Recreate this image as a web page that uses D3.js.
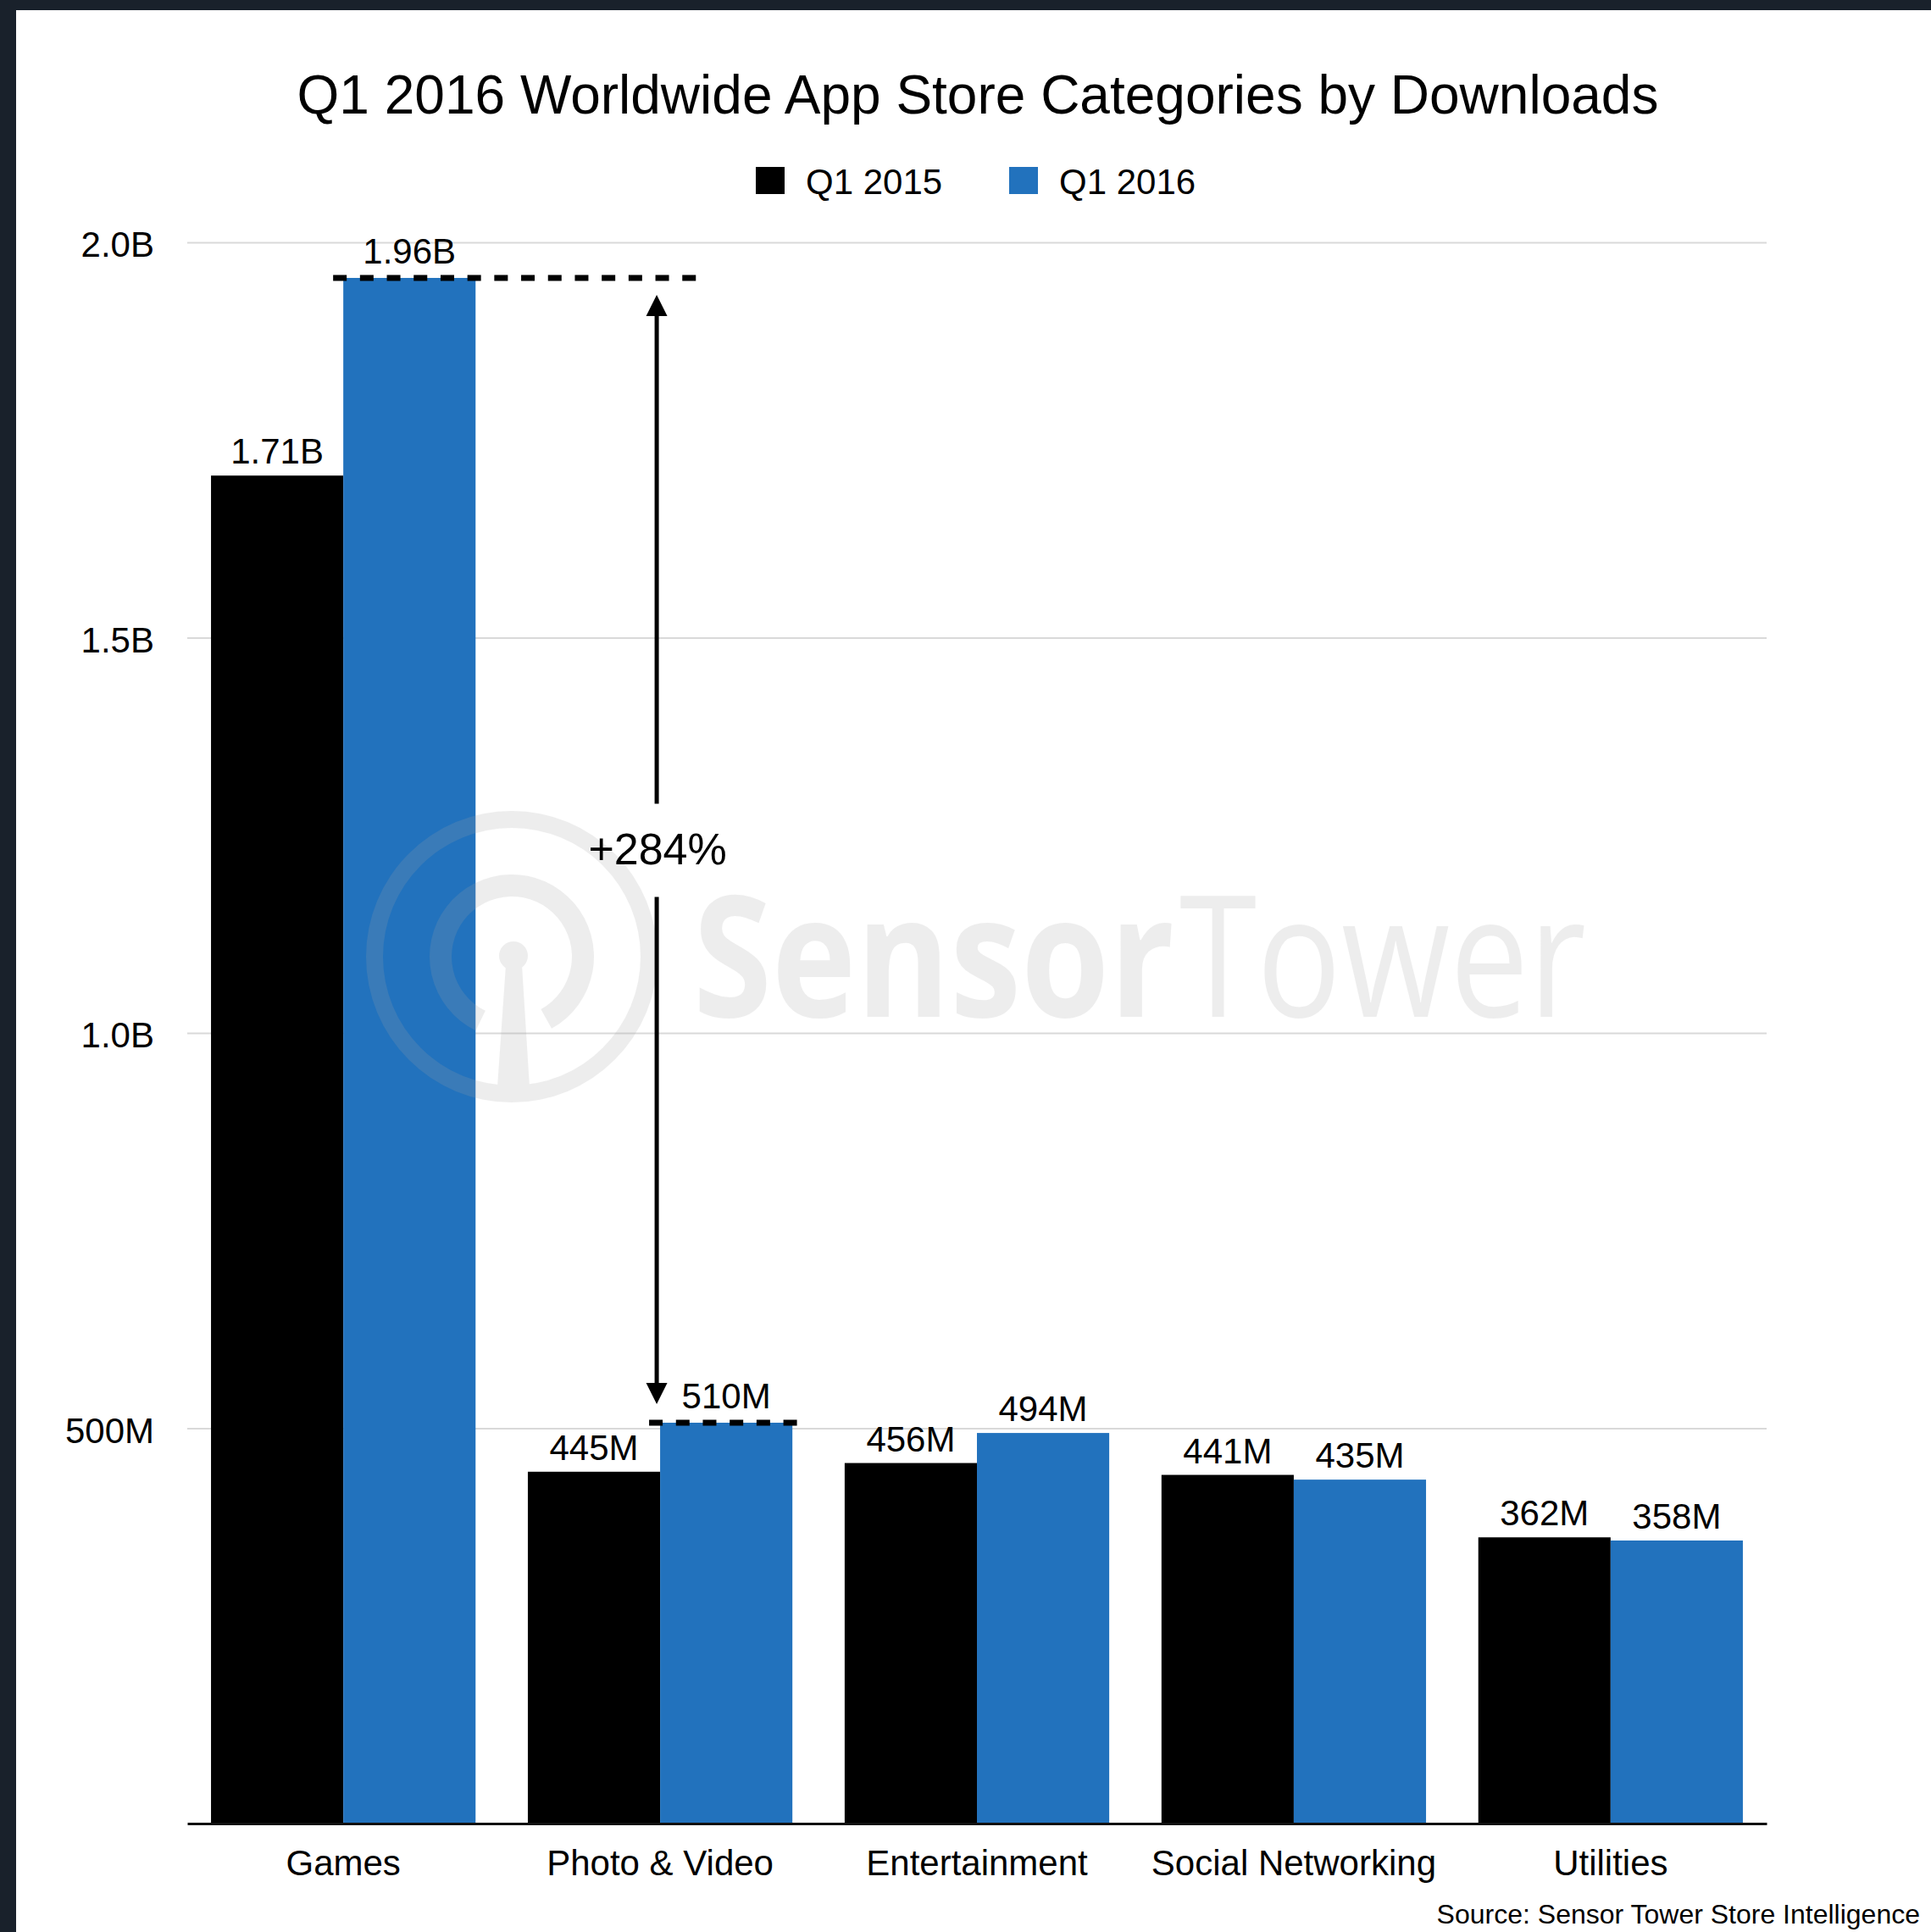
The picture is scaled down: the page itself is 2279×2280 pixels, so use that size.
<!DOCTYPE html>
<html>
<head>
<meta charset="utf-8">
<script src="https://d3js.org/d3.v7.min.js"></script>
<style>
  body { margin: 0; background: #fff; }
  svg { display: block; }
</style>
</head>
<body>
<svg id="chart"></svg>
<script>
// chart data
const categories = ["Games", "Photo & Video", "Entertainment", "Social Networking", "Utilities"];
const seriesNames = ["Q1 2015", "Q1 2016"];
const downloads2015 = [1.705e9, 445e6, 456e6, 441e6, 362e6];
const downloads2016 = [1.955e9, 507e6, 494e6, 435e6, 358e6];
const labels2015 = ["1.71B", "445M", "456M", "441M", "362M"];
const labels2016 = ["1.96B", "510M", "494M", "435M", "358M"];
const yTickValues = [5e8, 1e9, 1.5e9, 2e9];
const yTickLabels = ["500M", "1.0B", "1.5B", "2.0B"];
const seriesColors = ["#000000", "#2272bd"];
const growthLabel = "+284%";

setupVis();


function setupVis() {

    const WIDTH = 2279;
    const HEIGHT = 2280;
    const LEFT = 221;
    const RIGHT = 2085;
    const TOP = 286;
    const BOTTOM = 2152;
    const FONT = "'Liberation Sans', Arial, Helvetica, sans-serif";

    let svg = d3.select("#chart")
        .attr("width", WIDTH)
        .attr("height", HEIGHT);

    svg.append("rect").attr("width", WIDTH).attr("height", HEIGHT).attr("fill", "#fff");
    // dark frame along top and left edge
    svg.append("rect").attr("width", WIDTH).attr("height", 12).attr("fill", "#19212b");
    svg.append("rect").attr("width", 19).attr("height", HEIGHT).attr("fill", "#19212b");

    const x0 = d3.scaleBand()
        .domain(categories)
        .range([LEFT, RIGHT])
        .paddingInner(0.165)
        .paddingOuter(0.075);
    const x1 = d3.scaleBand()
        .domain(seriesNames)
        .range([0, x0.bandwidth()]);
    const y = d3.scaleLinear()
        .domain([0, 2e9])
        .range([BOTTOM, TOP]);

    // title
    svg.append("text")
        .attr("x", 1154)
        .attr("y", 134)
        .attr("text-anchor", "middle")
        .attr("font-family", FONT)
        .attr("font-size", 64)
        .text("Q1 2016 Worldwide App Store Categories by Downloads");

    // legend
    const legend = svg.append("g")
        .selectAll("g")
        .data(seriesNames)
        .join("g")
        .attr("transform", (d, i) => "translate(" + (892 + i * 299) + ",197)");
    legend.append("rect")
        .attr("width", 34)
        .attr("height", 32)
        .attr("fill", (d, i) => seriesColors[i]);
    legend.append("text")
        .attr("x", 59)
        .attr("y", 32)
        .attr("font-family", FONT)
        .attr("font-size", 42)
        .text(d => d);

    // gridlines + y labels
    const yAxis = svg.append("g")
        .attr("transform", "translate(" + LEFT + ",0)")
        .call(d3.axisLeft(y)
            .tickValues(yTickValues)
            .tickFormat((d, i) => yTickLabels[i])
            .tickSizeInner(-(RIGHT - LEFT))
            .tickSizeOuter(0)
            .tickPadding(39));
    yAxis.select(".domain").remove();
    yAxis.selectAll("line").attr("stroke", "#d9d9d9").attr("stroke-width", 2);
    yAxis.selectAll("text")
        .attr("font-family", FONT)
        .attr("font-size", 42)
        .attr("fill", "#000")
        .attr("dy", "0.4em");

    // bars
    const rows = categories.map((c, i) => ({
        cat: c,
        values: [downloads2015[i], downloads2016[i]],
        labels: [labels2015[i], labels2016[i]]
    }));
    const groups = svg.append("g")
        .selectAll("g")
        .data(rows)
        .join("g")
        .attr("transform", d => "translate(" + x0(d.cat) + ",0)");
    const cells = d => seriesNames.map((s, j) => ({ s: s, v: d.values[j], label: d.labels[j], j: j }));
    groups.selectAll("rect")
        .data(cells)
        .join("rect")
        .attr("x", d => x1(d.s))
        .attr("y", d => y(d.v))
        .attr("width", x1.bandwidth())
        .attr("height", d => BOTTOM - y(d.v))
        .attr("fill", d => seriesColors[d.j]);
    groups.selectAll("text")
        .data(cells)
        .join("text")
        .attr("x", d => x1(d.s) + x1.bandwidth() / 2)
        .attr("y", d => y(d.v) - (d.j === 1 && d.v >= 5e8 ? 17 : 14))
        .attr("text-anchor", "middle")
        .attr("font-family", FONT)
        .attr("font-size", 42)
        .text(d => d.label);

    // Sensor Tower watermark
    const wm = svg.append("g")
        .attr("fill", "#a3a3a3")
        .attr("opacity", 0.185);
    const cx = 604, cy = 1129;
    wm.append("path")
        .attr("transform", "translate(" + cx + "," + cy + ")")
        .attr("d", d3.arc()({ innerRadius: 152, outerRadius: 172, startAngle: 0, endAngle: 2 * Math.PI }));
    wm.append("path")
        .attr("transform", "translate(" + cx + "," + cy + ")")
        .attr("d", d3.arc()({ innerRadius: 71, outerRadius: 97, startAngle: -154 * Math.PI / 180, endAngle: 151 * Math.PI / 180 }));
    wm.append("path")
        .attr("d", "M" + (cx - 7) + "," + (cy + 10) + "L" + (cx + 12) + "," + (cy + 10) +
            "L" + (cx + 21) + "," + (cy + 154) + "L" + (cx - 17) + "," + (cy + 154) + "Z");
    wm.append("circle").attr("cx", cx + 2).attr("cy", cy - 1).attr("r", 17);
    wm.append("text")
        .attr("x", 818).attr("y", 1200)
        .attr("font-family", "'Open Sans', sans-serif")
        .attr("font-weight", 700)
        .attr("font-size", 199)
        .attr("textLength", 568)
        .attr("lengthAdjust", "spacingAndGlyphs")
        .text("Sensor");
    wm.append("text")
        .attr("x", 1392).attr("y", 1200)
        .attr("font-family", "'Open Sans', sans-serif")
        .attr("font-weight", 400)
        .attr("font-size", 199)
        .attr("textLength", 480)
        .attr("lengthAdjust", "spacingAndGlyphs")
        .text("Tower");

    // baseline + category labels
    const xAxis = svg.append("g")
        .attr("transform", "translate(0," + BOTTOM + ")")
        .call(d3.axisBottom(x0).tickSize(0).tickPadding(31));
    xAxis.select(".domain").attr("stroke", "#111").attr("stroke-width", 3);
    xAxis.selectAll("text")
        .attr("font-family", FONT)
        .attr("font-size", 42)
        .attr("fill", "#000");

    // growth annotation: Games Q1 2016 vs Photo & Video Q1 2016
    const bw = x1.bandwidth();
    const gamesX = x0(categories[0]) + x1(seriesNames[1]);
    const photoX = x0(categories[1]) + x1(seriesNames[1]);
    const yHigh = y(downloads2016[0]);
    const yLow = y(downloads2016[1]);
    const arrowX = photoX - 4;
    const ann = svg.append("g");
    ann.append("line")
        .attr("x1", gamesX - 12).attr("x2", arrowX + 51)
        .attr("y1", yHigh).attr("y2", yHigh)
        .attr("stroke", "#000").attr("stroke-width", 7)
        .attr("stroke-dasharray", "16,15.7");
    ann.append("line")
        .attr("x1", photoX - 13).attr("x2", photoX + bw + 9)
        .attr("y1", yLow).attr("y2", yLow)
        .attr("stroke", "#000").attr("stroke-width", 7)
        .attr("stroke-dasharray", "16,15.7");

    const mid = (yHigh + yLow) / 2;
    const topTip = yHigh + 20;
    const botTip = yLow - 22;
    ann.append("line")
        .attr("x1", arrowX).attr("x2", arrowX)
        .attr("y1", topTip + 20).attr("y2", mid - 55)
        .attr("stroke", "#000").attr("stroke-width", 5);
    ann.append("line")
        .attr("x1", arrowX).attr("x2", arrowX)
        .attr("y1", mid + 55).attr("y2", botTip - 20)
        .attr("stroke", "#000").attr("stroke-width", 5);
    ann.append("path")
        .attr("d", "M" + arrowX + "," + topTip + "L" + (arrowX + 12.5) + "," + (topTip + 25) +
            "L" + (arrowX - 12.5) + "," + (topTip + 25) + "Z");
    ann.append("path")
        .attr("d", "M" + arrowX + "," + botTip + "L" + (arrowX + 12.5) + "," + (botTip - 25) +
            "L" + (arrowX - 12.5) + "," + (botTip - 25) + "Z");
    ann.append("text")
        .attr("x", arrowX + 1)
        .attr("y", mid + 17)
        .attr("text-anchor", "middle")
        .attr("font-family", FONT)
        .attr("font-size", 52)
        .text(growthLabel);

    // source note
    svg.append("text")
        .attr("x", 2266)
        .attr("y", 2270)
        .attr("text-anchor", "end")
        .attr("font-family", FONT)
        .attr("font-size", 32)
        .text("Source: Sensor Tower Store Intelligence");
}
</script>
</body>
</html>
